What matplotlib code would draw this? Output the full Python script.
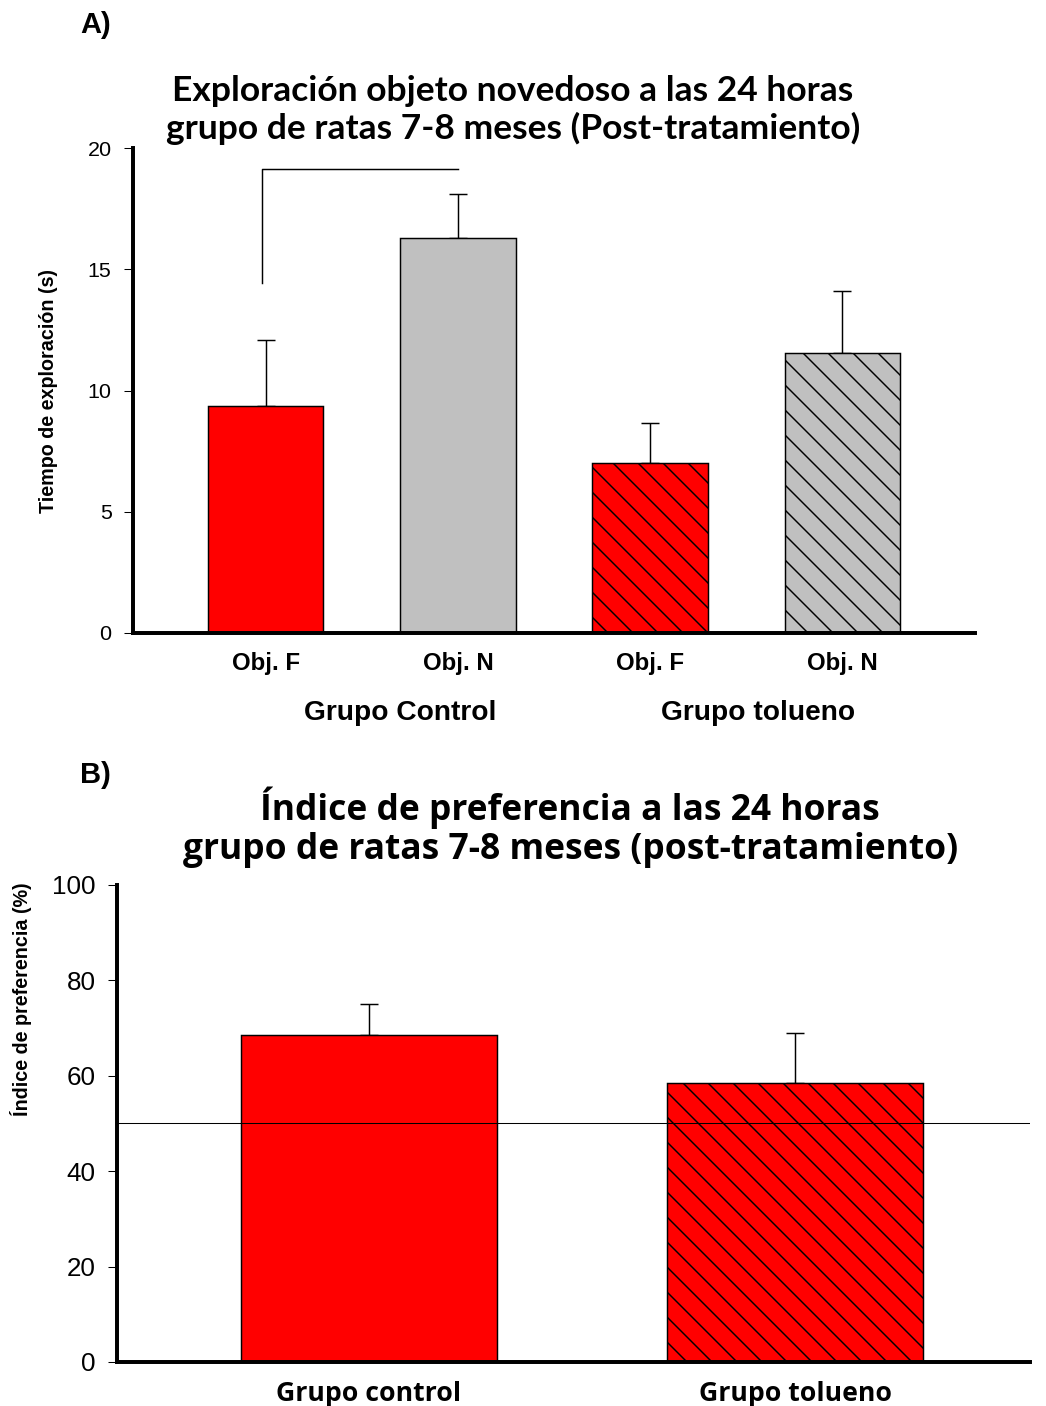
import numpy as np
import matplotlib
matplotlib.use('Agg')
import matplotlib.pyplot as plt
import matplotlib.transforms as mtransforms

# Datos panel A: tiempo de exploración (s)
etiquetas_obj = ['Obj. F', 'Obj. N', 'Obj. F', 'Obj. N']
grupos_a = ['Grupo Control', 'Grupo tolueno']
tiempo_media = [9.35, 16.3, 7.0, 11.55]
tiempo_err = [2.75, 1.8, 1.65, 2.55]
colores_a = ['#ff0000', '#c0c0c0', '#ff0000', '#c0c0c0']
tramas_a = ['', '', '\\\\', '\\\\']
# Corchete de significancia (Obj. F vs Obj. N control)
corchete_y = [14.45, 19.15]

# Datos panel B: índice de preferencia (%)
grupos_b = ['Grupo control', 'Grupo tolueno']
indice_media = [68.6, 58.5]
indice_err = [6.5, 10.5]
colores_b = ['#ff0000', '#ff0000']
tramas_b = ['', '\\\\']
nivel_azar = 50

DPI = 150
plt.rcParams['hatch.linewidth'] = 0.7
plt.rcParams['font.family'] = 'Liberation Sans'

fig = plt.figure(figsize=(1046 / DPI, 1406 / DPI), dpi=DPI)

# ---------------- Panel A ----------------
ax1 = fig.add_axes([0.1272, 0.5498, 0.8049, 0.3449])
x1 = np.arange(len(tiempo_media))
ax1.bar(x1, tiempo_media, width=0.6, color=colores_a, edgecolor='black',
        linewidth=0.7, hatch=tramas_a, zorder=2)
ax1.errorbar(x1, tiempo_media, yerr=[np.zeros(len(tiempo_err)), tiempo_err],
             fmt='none', ecolor='black', elinewidth=0.7, capsize=4.3,
             capthick=0.7, zorder=1)
ax1.plot([-0.02, -0.02, 1.0], [corchete_y[0], corchete_y[1], corchete_y[1]],
         color='black', linewidth=0.7)
ax1.set_xlim(-0.69, 3.69)
ax1.set_ylim(0, 20)
ax1.set_yticks([0, 5, 10, 15, 20])
ax1.set_xticks(x1)
ax1.set_xticklabels(etiquetas_obj, fontsize=11.5, fontweight='bold')
for sp in ['top', 'right']:
    ax1.spines[sp].set_visible(False)
for sp in ['left', 'bottom']:
    ax1.spines[sp].set_linewidth(1.9)
ax1.tick_params(axis='y', length=4.3, width=0.5, pad=6, labelsize=10.3)
ax1.tick_params(axis='x', length=0, pad=9)
ax1.set_ylabel('Tiempo de exploración (s)', fontsize=9.5, fontweight='bold')
ax1.yaxis.set_label_coords(-0.089, 0.5)
trans1 = mtransforms.blended_transform_factory(ax1.transData, ax1.transAxes)
for xg, g in zip([0.70, 2.56], grupos_a):
    ax1.text(xg, -0.165, g, transform=trans1, ha='center', va='center',
             fontsize=13.5, fontweight='bold')

fig.text(0.4904, 0.9218,
         'Exploración objeto novedoso a las 24 horas\n'
         'grupo de ratas 7-8 meses (Post-tratamiento)',
         ha='center', va='center', family='Lato', fontweight='bold',
         fontsize=17, linespacing=1.15)
fig.text(0.0765, 0.982, 'A)', ha='left', va='center', fontsize=14,
         fontweight='bold')

# ---------------- Panel B ----------------
ax2 = fig.add_axes([0.1119, 0.0313, 0.8728, 0.3393])
x2 = np.arange(len(indice_media))
ax2.bar(x2, indice_media, width=0.6, color=colores_b, edgecolor='black',
        linewidth=0.7, hatch=tramas_b, zorder=2)
ax2.errorbar(x2, indice_media, yerr=[np.zeros(len(indice_err)), indice_err],
             fmt='none', ecolor='black', elinewidth=0.7, capsize=4.3,
             capthick=0.7, zorder=1)
ax2.axhline(nivel_azar, color='black', linewidth=0.5, zorder=3)
ax2.set_xlim(-0.59, 1.55)
ax2.set_ylim(0, 100)
ax2.set_yticks([0, 20, 40, 60, 80, 100])
ax2.set_xticks(x2)
ax2.set_xticklabels(grupos_b, family='Open Sans', fontsize=12.8,
                    fontweight='bold')
for sp in ['top', 'right']:
    ax2.spines[sp].set_visible(False)
for sp in ['left', 'bottom']:
    ax2.spines[sp].set_linewidth(1.9)
ax2.tick_params(axis='y', length=4.3, width=0.5, pad=6, labelsize=12.5)
ax2.tick_params(axis='x', length=0, pad=9)
ax2.set_ylabel('Índice de preferencia (%)', fontsize=9.5, fontweight='bold')
ax2.yaxis.set_label_coords(-0.093, 0.76)

fig.text(0.545, 0.4118,
         'Índice de preferencia a las 24 horas\n'
         'grupo de ratas 7-8 meses (post-tratamiento)',
         ha='center', va='center', family='Open Sans', fontweight='bold',
         fontsize=17, linespacing=1.1)
fig.text(0.0765, 0.4488, 'B)', ha='left', va='center', fontsize=14,
         fontweight='bold')

fig.savefig('out.png', dpi=DPI)
